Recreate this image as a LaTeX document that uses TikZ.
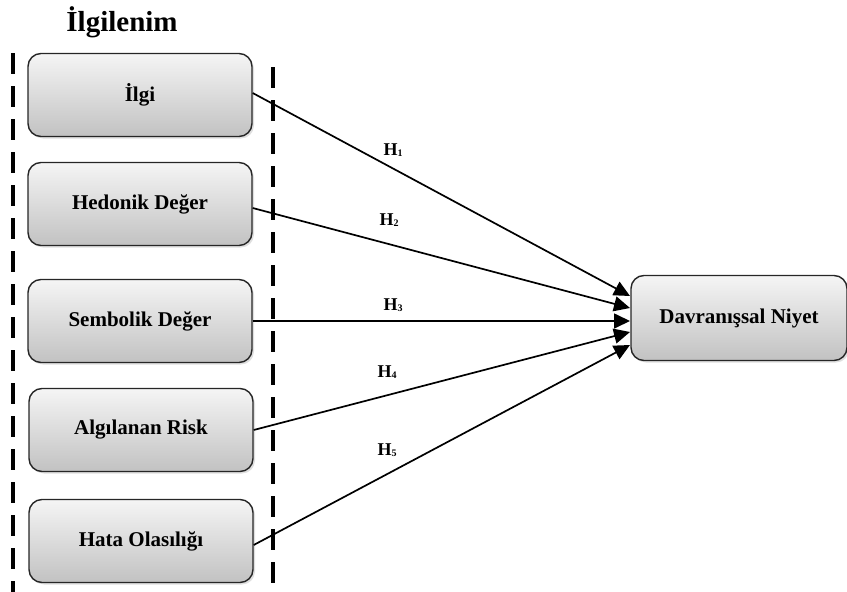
\documentclass[tikz,border=0pt]{standalone}
\usepackage{fontspec}
\setmainfont{Liberation Serif}
\usetikzlibrary{arrows.meta,shadows}
\newcommand{\hsub}[1]{\raisebox{-0.5pt}{\fontsize{10}{11}\selectfont #1}}
\begin{document}
\begin{tikzpicture}[x=1pt,y=-1pt,
  boxnode/.style={draw=black!85, line width=1.4pt, rounded corners=13pt,
    top color=black!4, bottom color=black!24, minimum width=224pt, minimum height=83pt,
    font=\fontsize{21}{24}\selectfont\bfseries, inner sep=0pt,
    drop shadow={opacity=0.25, shadow xshift=2pt, shadow yshift=-2pt}},
  dashline/.style={line width=4pt, dash pattern=on 21pt off 12pt},
  conn/.style={line width=1.7pt, -{Triangle[length=16pt,width=15pt]}},
  hlabel/.style={font=\fontsize{18}{20}\selectfont\bfseries, inner sep=0pt}]
\useasboundingbox (0,0) rectangle (847,592);
\node[font=\fontsize{29}{32}\selectfont\bfseries, anchor=center] (title) at (122,22) {İlgilenim};
\coordinate (l1) at (13,53); \coordinate (l2) at (13,592);
\coordinate (r1) at (273,67); \coordinate (r2) at (273,592);
\draw[dashline] (l1) -- (l2);
\draw[dashline] (r1) -- (r2);
\node[boxnode] (a) at (140,95) {İlgi};
\node[boxnode] (b) at (140,204) {Hedonik Değer};
\node[boxnode] (c) at (140,321) {Sembolik Değer};
\node[boxnode] (d) at (141,430) {Algılanan Risk};
\node[boxnode] (e) at (141,541) {Hata Olasılığı};
\node[boxnode, minimum width=216pt, minimum height=85pt] (y) at (739,318) {Davranışsal Niyet};
\coordinate (t1) at (630,296);
\coordinate (t2) at (630,308);
\coordinate (t3) at (630,321);
\coordinate (t4) at (630,332);
\coordinate (t5) at (630,345);
\draw[conn] ([yshift=2pt]a.east) -- (t1);
\draw[conn] ([yshift=-4pt]b.east) -- (t2);
\draw[conn] (c.east) -- (t3);
\draw[conn] (d.east) -- (t4);
\draw[conn] ([yshift=-4pt]e.east) -- (t5);
\node[hlabel] (h1) at (393,150) {H\hsub{1}};
\node[hlabel] (h2) at (389,220) {H\hsub{2}};
\node[hlabel] (h3) at (393,305) {H\hsub{3}};
\node[hlabel] (h4) at (387,372) {H\hsub{4}};
\node[hlabel] (h5) at (387,450) {H\hsub{5}};
\end{tikzpicture}
\end{document}
